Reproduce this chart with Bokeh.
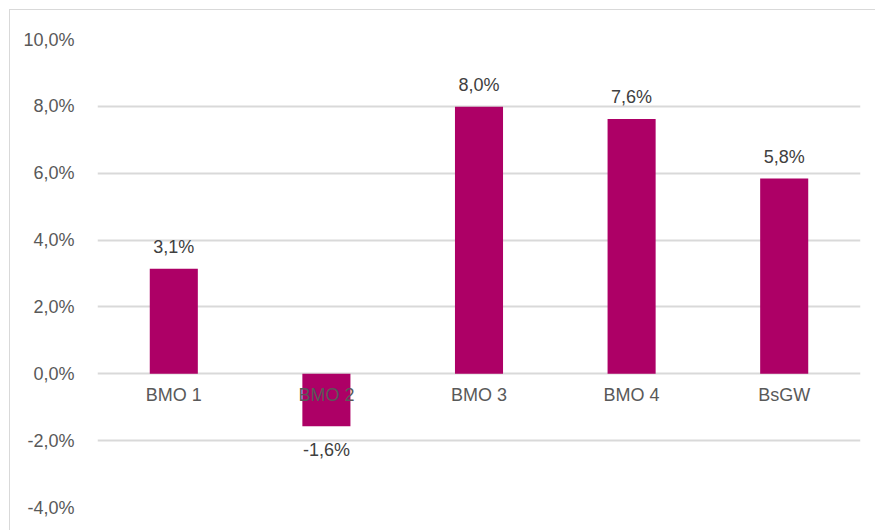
from bokeh.plotting import figure
from bokeh.models import ColumnDataSource, FixedTicker, CustomJSTickFormatter, Range1d, FactorRange
from bokeh.embed import file_html
from bokeh.resources import INLINE
from bokeh.core.properties import value

categories = ["BMO 1", "BMO 2", "BMO 3", "BMO 4", "BsGW"]
values = [3.14, -1.57, 7.99, 7.62, 5.84]
y_ticks = [-4, -2, 0, 2, 4, 6, 8, 10]

BAR = "#AD0066"
TXT = "#595959"
VAL = "#404040"
GRID = "#D9D9D9"
FONT = "Liberation Sans"

labels = [f"{v:.1f}".replace(".", ",") + "%" for v in values]
offsets = [-22 if v >= 0 else 24 for v in values]

src = ColumnDataSource(dict(cat=categories, val=values, lab=labels, off=offsets))

p = figure(width=866, height=521, output_backend="svg", toolbar_location=None,
           x_range=FactorRange(factors=categories, range_padding=0),
           y_range=Range1d(-4, 10),
           min_border_left=87, min_border_right=16, min_border_top=29, min_border_bottom=24)
p.styles = {"border-top": f"1px solid {GRID}", "border-left": f"1px solid {GRID}",
            "margin-left": "9px", "margin-top": "9px"}
p.outline_line_color = None

p.vbar(x="cat", top="val", bottom=0, width=0.315, source=src, fill_color=BAR, line_color=None)
p.text(x="cat", y="val", text="lab", y_offset="off", source=src, text_align="center",
       text_baseline="alphabetic", text_color=VAL, text_font=value(FONT), text_font_size="18px")

p.yaxis.ticker = FixedTicker(ticks=y_ticks)
p.yaxis.formatter = CustomJSTickFormatter(code="return tick.toFixed(1).replace('.', ',') + '%';")
p.yaxis.axis_line_color = None
p.yaxis.major_tick_line_color = None
p.yaxis.minor_tick_line_color = None
p.yaxis.major_label_standoff = 17
p.yaxis.major_label_text_color = TXT
p.yaxis.major_label_text_font = FONT
p.yaxis.major_label_text_font_size = "18px"

p.xaxis.fixed_location = 0
p.xaxis.axis_line_color = None
p.xaxis.major_tick_line_color = None
p.xaxis.minor_tick_line_color = None
p.xaxis.major_label_standoff = 5
p.xaxis.major_label_text_color = TXT
p.xaxis.major_label_text_font = FONT
p.xaxis.major_label_text_font_size = "18px"

p.xgrid.grid_line_color = None
p.ygrid.grid_line_color = GRID
p.ygrid.grid_line_width = 2
p.ygrid.ticker = FixedTicker(ticks=y_ticks)

open("out.html", "w").write(file_html(p, INLINE))
